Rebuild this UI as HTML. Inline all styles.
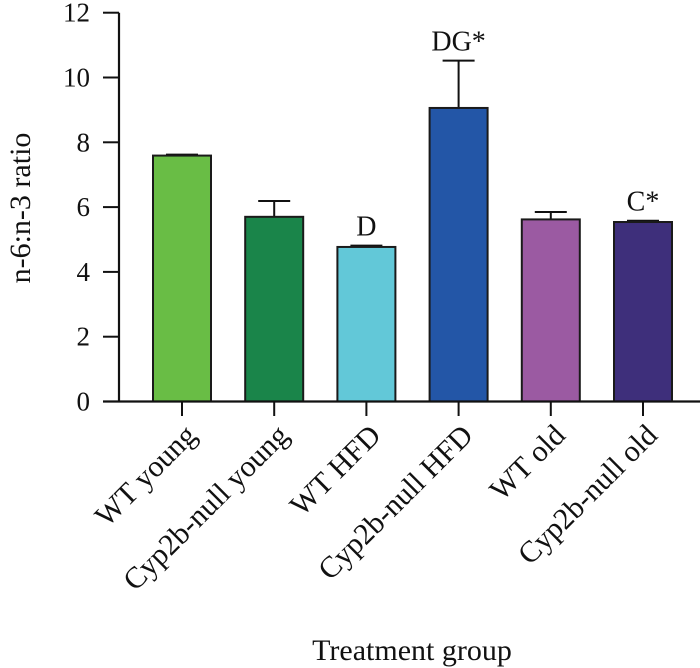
<!DOCTYPE html>
<html><head><meta charset="utf-8"><style>
body{margin:0;background:#fff}
svg{display:block;font-family:"Liberation Serif",serif}
</style></head><body>
<svg id="chart" width="700" height="668" viewBox="0 0 700 668" xmlns="http://www.w3.org/2000/svg"></svg>
<script>
const categories=["WT young","Cyp2b-null young","WT HFD","Cyp2b-null HFD","WT old","Cyp2b-null old"];
const values=[7.59,5.70,4.77,9.06,5.62,5.54];
const errors=[0.03,0.49,0.04,1.46,0.23,0.04];
const annotations=["","","D","DG*","","C*"];
const colors=["#69bd45","#1a854a","#62c8d8","#2356a7","#9b5aa2","#3e2f7b"];
const yTicks=[0,2,4,6,8,10,12];
const NS="http://www.w3.org/2000/svg";
const svg=document.getElementById("chart");
const y0=401.5,pxPer=32.4;
const y=v=>y0-v*pxPer;
const xc=i=>182+i*92.2;
const bw=58;
function el(t,a,p){const e=document.createElementNS(NS,t);for(const k in a)e.setAttribute(k,a[k]);(p||svg).appendChild(e);return e;}
categories.forEach((c,i)=>{
 const eb=el("g",{});
 
 
 el("line",{x1:xc(i),x2:xc(i),y1:y(values[i]),y2:y(values[i]+errors[i]),stroke:"#111","stroke-width":2},eb);
 el("line",{x1:xc(i)-16,x2:xc(i)+16,y1:y(values[i]+errors[i]),y2:y(values[i]+errors[i]),stroke:"#111","stroke-width":2},eb);
 const r=el("rect",{x:xc(i)-bw/2,y:y(values[i]),width:bw,height:y0-y(values[i]),fill:colors[i],stroke:"#1a1a1a","stroke-width":2});
 
 
 if(annotations[i]){
  const t=el("text",{x:xc(i),y:y(values[i]+errors[i])-10,"text-anchor":"middle","font-size":28,fill:"#111"});
  t.textContent=annotations[i];
  
  
 }
 el("line",{x1:xc(i),x2:xc(i),y1:y0,y2:416,stroke:"#111","stroke-width":2});
 const lb=el("text",{transform:`translate(${xc(i)+16},${437}) rotate(-45)`,"text-anchor":"end","font-size":30,fill:"#111"});
 lb.textContent=c;
 
 
});
const ya=el("line",{x1:119,x2:119,y1:y(12),y2:y0+1,stroke:"#111","stroke-width":2.2});


const xa=el("line",{x1:103,x2:700,y1:y0,y2:y0,stroke:"#111","stroke-width":2.2});


yTicks.forEach(v=>{
 el("line",{x1:103,x2:119,y1:y(v),y2:y(v),stroke:"#111","stroke-width":2});
 const t=el("text",{x:90,y:y(v)+9,"text-anchor":"end","font-size":27,fill:"#111"});
 t.textContent=v;
 
 
});
const yt=el("text",{transform:"translate(30,208) rotate(-90)","text-anchor":"middle","font-size":30,fill:"#111"});
yt.textContent="n-6:n-3 ratio";


const xt=el("text",{x:412,y:660,"text-anchor":"middle","font-size":30,fill:"#111"});
xt.textContent="Treatment group";


</script>
</body></html>
